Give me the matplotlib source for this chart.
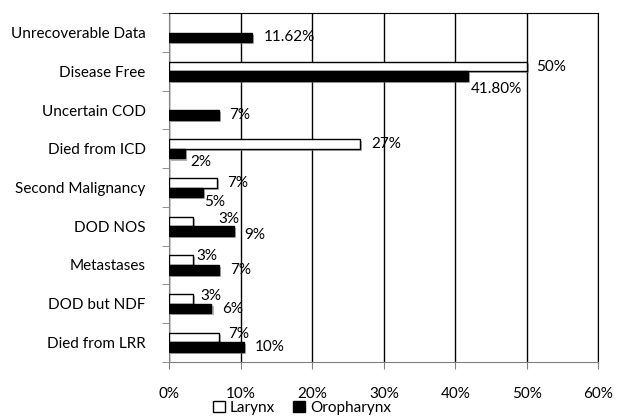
import matplotlib
matplotlib.use('Agg')
import matplotlib.pyplot as plt
import matplotlib.patheffects as pe
from matplotlib.patches import Patch
from matplotlib.ticker import FuncFormatter
import numpy as np

# --------------------------------------------------
#   data (top to bottom)
categories = ['Unrecoverable Data', 'Disease Free', 'Uncertain COD', 'Died from ICD',
              'Second Malignancy', 'DOD NOS', 'Metastases', 'DOD but NDF', 'Died from LRR']
larynx = [0, 50, 0, 26.7, 6.7, 3.3, 3.3, 3.3, 6.9]
oropharynx = [11.62, 41.8, 6.95, 2.2, 4.7, 9.0, 7.0, 5.9, 10.4]
larynx_labels = ['', '50%', '', '27%', '7%', '3%', '3%', '3%', '7%']
oro_labels = ['11.62%', '41.80%', '7%', '2%', '5%', '9%', '7%', '6%', '10%']

# label offsets in pixels (dx, dy) from bar end, hand placed like the original
larynx_off = [(0, 0), (9, 0), (0, 0), (11, 0), (10, 0), (25, 2), (3, 4), (7, 3), (9, 4)]
oro_off = [(11, 0), (3, -13), (10, 0), (5, -8), (1, -10), (11, -4), (11, 0), (11, -1), (11, 0)]

plt.rcParams['font.family'] = ['Lato', 'DejaVu Sans']

fig = plt.figure(figsize=(6.22, 4.17), dpi=100)
ax = fig.add_axes([0.2722, 0.1326, 0.6897, 0.8355])

n = len(categories)
y = np.arange(n)
h = 0.25
shadow = [pe.SimplePatchShadow(offset=(1.5, -1.5), shadow_rgbFace='#808080', alpha=0.6), pe.Normal()]

# skip empty bars so no stray edge shows at 0
yl = [y[i] - h / 2 for i in range(n) if larynx[i] > 0]
wl = [v for v in larynx if v > 0]
b1 = ax.barh(yl, wl, height=h, color='white', edgecolor='black', linewidth=1, zorder=3)
b2 = ax.barh(y + h / 2, oropharynx, height=h, color='black', edgecolor='black', linewidth=1, zorder=3)
for b in list(b1) + list(b2):
    b.set_path_effects(shadow)

for i in range(n):
    if larynx_labels[i]:
        ax.annotate(larynx_labels[i], (larynx[i], y[i] - h / 2), xytext=larynx_off[i],
                    textcoords='offset pixels', ha='left', va='center', fontsize=11, zorder=4)
    ax.annotate(oro_labels[i], (oropharynx[i], y[i] + h / 2), xytext=oro_off[i],
                textcoords='offset pixels', ha='left', va='center', fontsize=11, zorder=4)

ax.set_xlim(0, 60)
ax.set_ylim(n - 0.5, -0.5)
ax.set_xticks(np.arange(0, 61, 10))
ax.xaxis.set_major_formatter(FuncFormatter(lambda v, p: '%d%%' % v))
ax.grid(axis='x', color='black', linewidth=1, zorder=1)
ax.tick_params(axis='x', direction='out', length=5, color='#808080', labelsize=11, pad=13)

ax.set_yticks(y)
ax.set_yticklabels(categories, fontsize=11)
ax.set_yticks(np.arange(-0.5, n, 1), minor=True)
ax.tick_params(axis='y', which='major', length=0, pad=17)
ax.tick_params(axis='y', which='minor', direction='out', length=5, color='#808080')

for s in ['top', 'right']:
    ax.spines[s].set_color('black')
for s in ['left', 'bottom']:
    ax.spines[s].set_color('#808080')

handles = [Patch(facecolor='white', edgecolor='black', label='Larynx'),
           Patch(facecolor='black', edgecolor='black', label='Oropharynx')]
fig.legend(handles=handles, loc='center', bbox_to_anchor=(0.485, 0.022), ncol=2, frameon=False,
           fontsize=11, handlelength=0.8, handleheight=0.8, handletextpad=0.3, columnspacing=1.2)

fig.savefig('out.png', dpi=100)
